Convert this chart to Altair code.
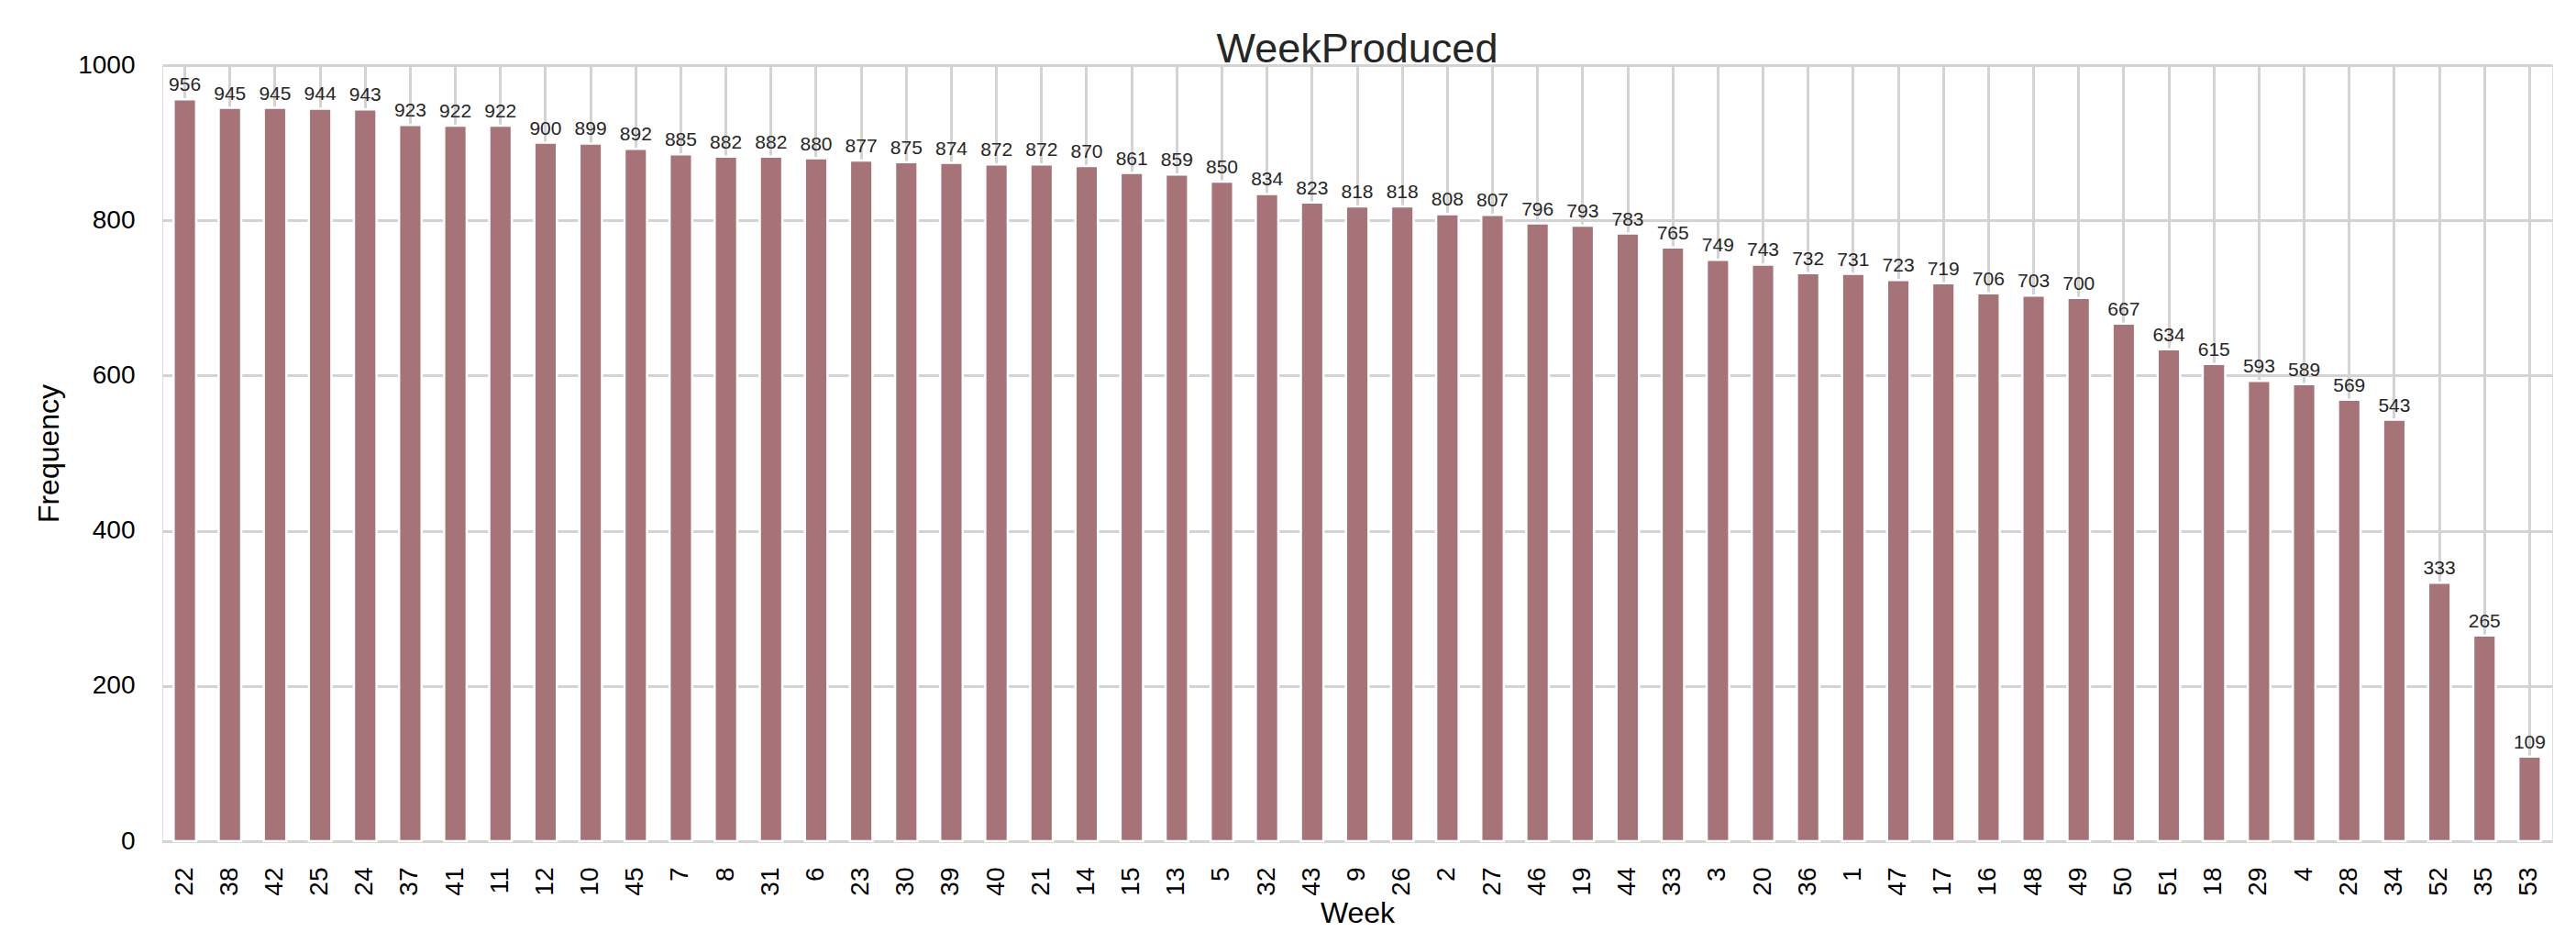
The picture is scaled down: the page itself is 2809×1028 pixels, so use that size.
import altair as alt
import pandas as pd

weeks = ["22", "38", "42", "25", "24", "37", "41", "11", "12", "10", "45", "7", "8", "31", "6",
         "23", "30", "39", "40", "21", "14", "15", "13", "5", "32", "43", "9", "26", "2", "27",
         "46", "19", "44", "33", "3", "20", "36", "1", "47", "17", "16", "48", "49", "50", "51",
         "18", "29", "4", "28", "34", "52", "35", "53"]
counts = [956, 945, 945, 944, 943, 923, 922, 922, 900, 899, 892, 885, 882, 882, 880,
          877, 875, 874, 872, 872, 870, 861, 859, 850, 834, 823, 818, 818, 808, 807,
          796, 793, 783, 765, 749, 743, 732, 731, 723, 719, 706, 703, 700, 667, 634,
          615, 593, 589, 569, 543, 333, 265, 109]
y_ticks = [0, 200, 400, 600, 800, 1000]

df = pd.DataFrame({"Week": weeks, "Frequency": counts})

FONT = "Liberation Sans"
TEXT = "#262626"
GRID = "#d3d3d3"

x_enc = alt.X(
    "Week:N",
    sort=weeks,
    title="Week",
    scale=alt.Scale(paddingInner=0.5, paddingOuter=0.25),
    axis=alt.Axis(
        labelAngle=-90,
        labelPadding=28,
        labelFontSize=28,
        titleFontSize=32,
        titleFontWeight="normal",
        titlePadding=4,
        grid=True,
        gridColor=GRID,
        gridWidth=3,
        gridOpacity=1,
        bandPosition=0.5,
        ticks=False,
        domain=False,
    ),
)
y_enc = alt.Y(
    "Frequency:Q",
    title="Frequency",
    scale=alt.Scale(domain=[0, 1000], nice=False),
    axis=alt.Axis(
        values=y_ticks,
        format="d",
        labelPadding=30,
        labelFontSize=28,
        titleFontSize=32,
        titleFontWeight="normal",
        titlePadding=14,
        grid=True,
        gridColor=GRID,
        gridWidth=3,
        gridOpacity=1,
        ticks=False,
        domain=False,
    ),
)

bars = alt.Chart(df).mark_bar(color="#a67478", stroke="white", strokeWidth=2.5).encode(
    x=x_enc, y=y_enc
)
labels = alt.Chart(df).mark_text(
    baseline="bottom", dy=-5, fontSize=21, color=TEXT, font=FONT
).encode(
    x=alt.X("Week:N", sort=weeks),
    y=alt.Y("Frequency:Q"),
    text=alt.Text("Frequency:Q"),
)

chart = (
    alt.layer(bars, labels)
    .properties(
        width=2606,
        height=846,
        autosize="none",
        padding={"left": 169, "top": 63, "right": 10, "bottom": 110},
        title=alt.TitleParams(
            "WeekProduced", fontSize=45, font=FONT, color=TEXT, fontWeight="normal",
            anchor="middle", offset=4, dy=24
        ),
    )
    .configure_view(stroke=GRID, strokeWidth=4, strokeOpacity=1)
    .configure_axis(
        labelFont=FONT,
        titleFont=FONT,
        labelColor=TEXT,
        titleColor=TEXT,
        titleFontWeight="normal",
    )
    .configure(background="white")
)

chart.save("out.html", embed_options={"renderer": "svg", "actions": False})
